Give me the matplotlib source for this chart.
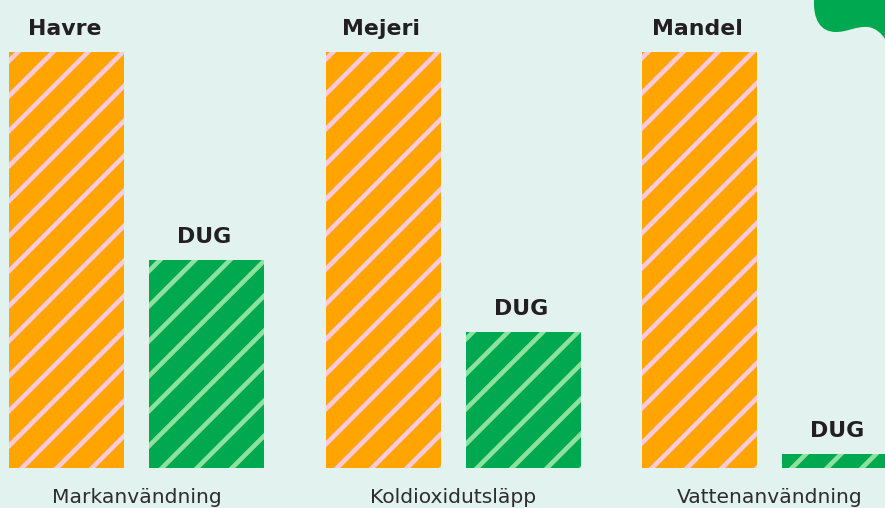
import matplotlib
matplotlib.use("Agg")
import matplotlib.pyplot as plt
from matplotlib.path import Path
from matplotlib.patches import PathPatch
import numpy as np

categories = ["Markanvändning", "Koldioxidutsläpp", "Vattenanvändning"]
comparison_labels = ["Havre", "Mejeri", "Mandel"]
comparison_values = [100, 100, 100]
dug_label = "DUG"
dug_values = [50, 32.7, 3.4]

W, H, DPI = 885, 509, 210
PT = 72 / DPI  # points per pixel
BG = "#e2f2ee"
ORANGE = "#ffa400"
PINK = "#fcc9dd"
GREEN = "#00a84f"
LGREEN = "#8de29e"
TEXT = "#231f20"

plt.rcParams["hatch.linewidth"] = 4.6 * PT
plt.rcParams["font.family"] = ["DejaVu Sans"]

fig = plt.figure(figsize=(W / DPI, H / DPI), dpi=DPI, facecolor=BG)
ax = fig.add_axes([0, 40 / H, 1, 469 / H])
ax.set_facecolor(BG)
for s in ax.spines.values():
    s.set_visible(False)

x = np.arange(len(categories))
unit = 316.5
bw = 115 / unit
off = 70 / unit

ax.bar(x - off, comparison_values, width=bw, color=ORANGE, edgecolor=PINK,
       linewidth=0, hatch="//")
ax.bar(x + off, dug_values, width=bw, color=GREEN, edgecolor=LGREEN,
       linewidth=0, hatch="//")

ax.set_xlim(-136.5 / unit, (885 - 136.5) / unit)
ax.set_ylim(0, 469 / 4.16)
ax.set_xticks([])
ax.set_yticks([])

for xi, v, lab in zip(x - off, comparison_values, comparison_labels):
    ax.annotate(lab, (xi, v), xytext=(-2 * PT, 18 * PT), textcoords="offset points",
                ha="center", va="baseline", fontsize=22 * PT,
                fontweight="bold", color=TEXT)
for xi, v in zip(x + off, dug_values):
    ax.annotate(dug_label, (xi, v), xytext=(-2 * PT, 17.5 * PT), textcoords="offset points",
                ha="center", va="baseline", fontsize=22 * PT,
                fontweight="bold", color=TEXT)
for xi, lab in zip(x, categories):
    ax.annotate(lab, (xi, 0), xycoords=("data", "axes fraction"),
                xytext=(0, -34.5 * PT), textcoords="offset points",
                ha="center", va="baseline", fontsize=20.2 * PT, color="#2e2e2e")

# decorative blob top-right
pts = [(814, 0),
       (813, 20), (820, 33), (836, 33),
       (848, 33), (856, 27), (868, 28),
       (876, 29), (882, 35), (885, 40),
       (885, 0)]
codes = [Path.MOVETO] + [Path.CURVE4] * 9 + [Path.LINETO]
verts = [(px / W, 1 - py / H) for px, py in pts]
fig.patches.append(PathPatch(Path(verts + [verts[0]], codes + [Path.CLOSEPOLY]),
                             transform=fig.transFigure, facecolor=GREEN, edgecolor="none"))

fig.savefig("out.png", dpi=DPI, facecolor=BG)
